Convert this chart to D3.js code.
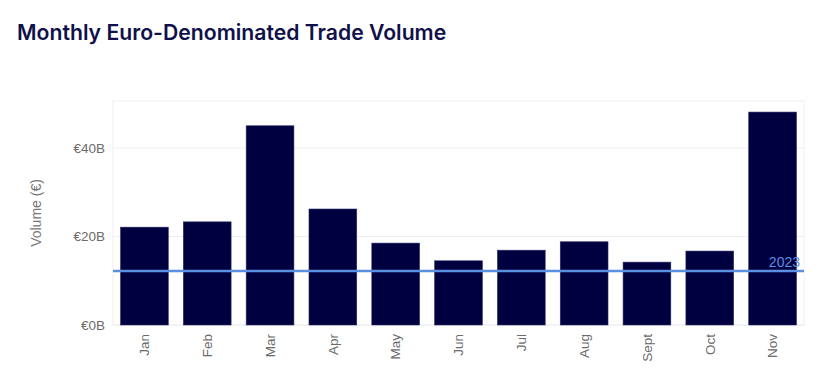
<!DOCTYPE html>
<html>
<head>
<meta charset="utf-8">
<script src="https://cdn.jsdelivr.net/npm/d3@7"></script>
<style>
  body { margin: 0; background: #fff; }
  .title { font-family: Inter, "Open Sans", sans-serif; font-weight: 600; font-size: 21.2px; fill: #10104a; }
  .axis text { font-family: "Liberation Sans", Arial, sans-serif; font-size: 13.5px; fill: #6b6b6b; }
  .axis path, .axis line { stroke: none; }
  .yLabel { font-family: "Liberation Sans", Arial, sans-serif; font-size: 14px; fill: #777; }
  .refLabel { font-family: "Liberation Sans", Arial, sans-serif; font-size: 14px; fill: #5b8fe0; }
</style>
</head>
<body>
<div id="chart"></div>
<script>
const months = ["Jan", "Feb", "Mar", "Apr", "May", "Jun", "Jul", "Aug", "Sept", "Oct", "Nov"];
const volumes = [22.1, 23.3, 45.0, 26.2, 18.5, 14.5, 16.9, 18.8, 14.2, 16.7, 48.1];
const yTicks = [0, 20, 40];
const refValue = 12.2;
const refLabel = "2023";

const width = 837, height = 389;
const margin = { top: 101, right: 33, bottom: 64, left: 113 };

const svg = d3.select("#chart").append("svg")
  .attr("width", width)
  .attr("height", height);

svg.append("text")
  .attr("class", "title")
  .attr("x", 17)
  .attr("y", 40)
  .text("Monthly Euro-Denominated Trade Volume");

const data = months.map((m, i) => ({ month: m, value: volumes[i] }));

const x = d3.scaleBand()
  .domain(months)
  .range([margin.left, width - margin.right])
  .paddingInner(0.24)
  .paddingOuter(0.12);

const y = d3.scaleLinear()
  .domain([0, 50.6])
  .range([height - margin.bottom, margin.top]);

// plot frame
svg.append("rect")
  .attr("x", margin.left)
  .attr("y", margin.top)
  .attr("width", width - margin.left - margin.right)
  .attr("height", height - margin.top - margin.bottom)
  .attr("fill", "none")
  .attr("stroke", "#f0f0f0");

// grid
svg.append("g")
  .selectAll("line")
  .data(yTicks)
  .join("line")
  .attr("x1", margin.left)
  .attr("x2", width - margin.right)
  .attr("y1", d => y(d))
  .attr("y2", d => y(d))
  .attr("stroke", "#eeeeee");

svg.append("g")
  .attr("class", "axis")
  .attr("transform", `translate(${margin.left},0)`)
  .call(d3.axisLeft(y).tickValues(yTicks).tickSize(0).tickPadding(8).tickFormat(d => `€${d}B`));

svg.selectAll("rect.bar")
  .data(data)
  .join("rect")
  .attr("class", "bar")
  .attr("x", d => x(d.month))
  .attr("width", x.bandwidth())
  .attr("y", d => y(d.value))
  .attr("height", d => y(0) - y(d.value))
  .attr("fill", "#000040")
  .attr("stroke", "#2a2a66")
  .attr("stroke-width", 0.6);

const xAxis = svg.append("g")
  .attr("class", "axis")
  .attr("transform", `translate(0,${height - margin.bottom})`)
  .call(d3.axisBottom(x).tickSize(0).tickPadding(0));

xAxis.selectAll("text")
  .attr("transform", "rotate(-90)")
  .attr("x", -9)
  .attr("y", 0)
  .attr("dy", "0.35em")
  .style("text-anchor", "end");

svg.append("text")
  .attr("class", "yLabel")
  .attr("transform", `translate(41,${(margin.top + height - margin.bottom) / 2}) rotate(-90)`)
  .style("text-anchor", "middle")
  .text("Volume (€)");

// reference line
svg.append("line")
  .attr("x1", margin.left)
  .attr("x2", width - margin.right)
  .attr("y1", y(refValue))
  .attr("y2", y(refValue))
  .attr("stroke", "#5b8fe0")
  .attr("stroke-width", 2.5);

svg.append("text")
  .attr("class", "refLabel")
  .attr("x", width - margin.right - 4)
  .attr("y", y(refValue) - 4)
  .style("text-anchor", "end")
  .text(refLabel);
</script>
</body>
</html>
